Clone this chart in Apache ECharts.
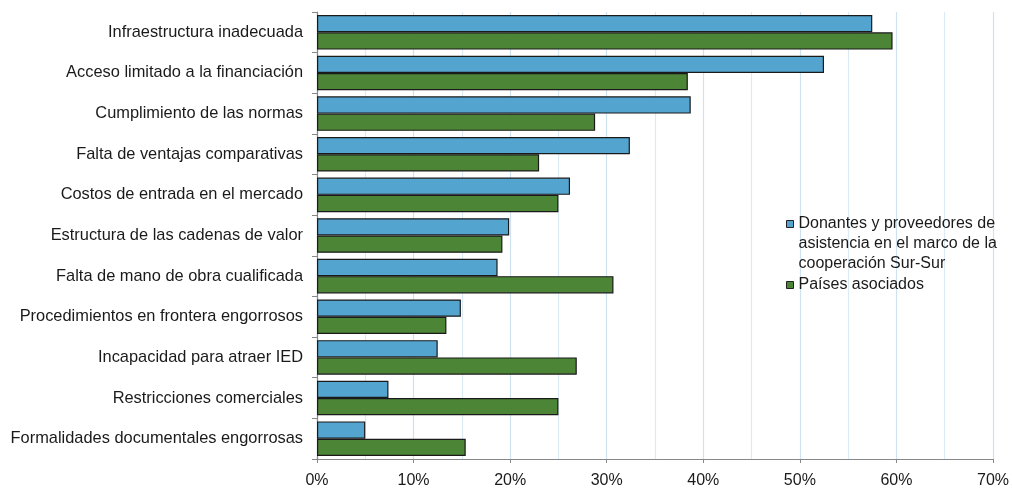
<!DOCTYPE html>
<html>
<head>
<meta charset="utf-8">
<script src="https://cdn.jsdelivr.net/npm/echarts@6/dist/echarts.min.js"></script>
<style>html,body{margin:0;padding:0;background:#fff;}#c{width:1012px;height:489px;}</style>
</head>
<body>
<div id="c"></div>
<script>
var categories = [
  "Infraestructura inadecuada",
  "Acceso limitado a la financiación",
  "Cumplimiento de las normas",
  "Falta de ventajas comparativas",
  "Costos de entrada en el mercado",
  "Estructura de las cadenas de valor",
  "Falta de mano de obra cualificada",
  "Procedimientos en frontera engorrosos",
  "Incapacidad para atraer IED",
  "Restricciones comerciales",
  "Formalidades documentales engorrosas"
];
var seriesNames = [
  "Donantes y proveedores de\nasistencia en el marco de la\ncooperación Sur-Sur",
  "Países asociados"
];
var donantes = [57.5, 52.5, 38.7, 32.4, 26.2, 19.9, 18.7, 14.9, 12.5, 7.4, 5.0];
var paises   = [59.6, 38.4, 28.8, 23.0, 25.0, 19.2, 30.7, 13.4, 26.9, 25.0, 15.4];
var xTicks = [0, 10, 20, 30, 40, 50, 60, 70];

var FONT = "'Liberation Sans', Arial, sans-serif";
var chart = echarts.init(document.getElementById('c'), null, {renderer: 'canvas'});
chart.setOption({
  animation: false,
  backgroundColor: '#fff',
  grid: {left: 317, right: 19, top: 12, bottom: 30, containLabel: false},
  legend: [
    {
      data: [seriesNames[0]],
      formatter: function (n) { return '\n\n' + n; },
      orient: 'vertical', left: 786, top: 174, padding: 0,
      selectedMode: false, icon: 'rect', itemWidth: 7, itemHeight: 7,
      itemStyle: {borderColor: '#222', borderWidth: 1},
      textStyle: {fontFamily: FONT, fontSize: 16, color: '#1a1a1a', lineHeight: 20}
    },
    {
      data: [seriesNames[1]],
      orient: 'vertical', left: 786, top: 275, padding: 0,
      selectedMode: false, icon: 'rect', itemWidth: 7, itemHeight: 7,
      itemStyle: {borderColor: '#222', borderWidth: 1},
      textStyle: {fontFamily: FONT, fontSize: 16, color: '#1a1a1a', lineHeight: 20}
    }
  ],
  xAxis: {
    type: 'value', min: xTicks[0], max: xTicks[xTicks.length - 1], interval: 10,
    axisLine: {show: true, lineStyle: {color: '#888', width: 1}},
    axisTick: {show: true, length: 4, lineStyle: {color: '#888'}},
    axisLabel: {formatter: '{value}%', fontFamily: FONT, fontSize: 16, color: '#1a1a1a', margin: 14},
    splitLine: {show: true, lineStyle: {color: '#cfe2ef', width: 1.2}},
    minorTick: {show: false, splitNumber: 2},
    minorSplitLine: {show: true, lineStyle: {color: '#dceaf4', width: 1.2}}
  },
  yAxis: {
    type: 'category', data: categories, inverse: true,
    axisLine: {show: true, lineStyle: {color: '#888', width: 1.2}},
    axisTick: {show: true, length: 5, lineStyle: {color: '#888'}},
    axisLabel: {fontFamily: FONT, fontSize: 16.4, color: '#1a1a1a', margin: 14},
    splitLine: {show: false}
  },
  series: [
    {
      name: seriesNames[0], type: 'bar', data: donantes,
      barGap: '0%', barCategoryGap: '15%',
      itemStyle: {color: '#53a5d0', borderColor: '#1a1a1a', borderWidth: 1.2}
    },
    {
      name: seriesNames[1], type: 'bar', data: paises,
      barGap: '0%', barCategoryGap: '15%',
      itemStyle: {color: '#4d8536', borderColor: '#1a1a1a', borderWidth: 1.2}
    }
  ]
});
</script>
</body>
</html>
